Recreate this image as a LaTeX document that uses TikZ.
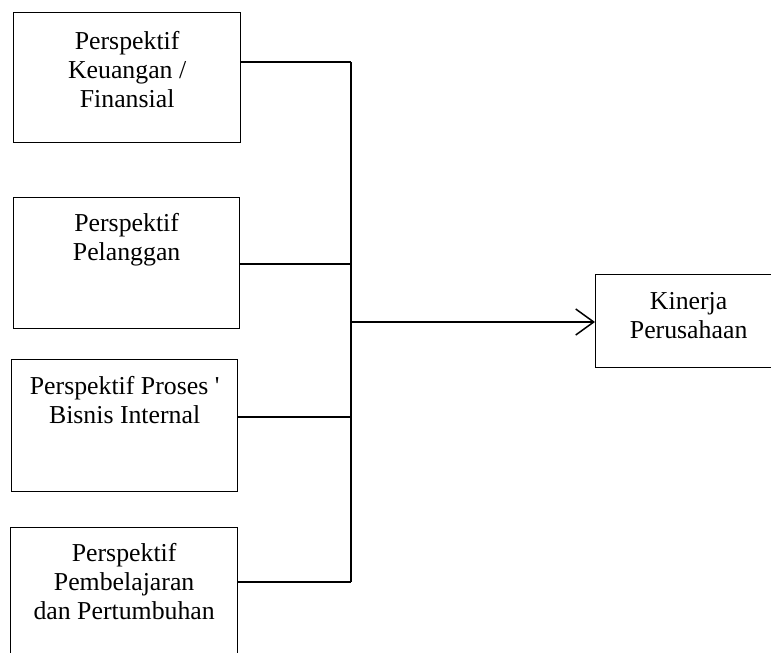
\documentclass[tikz,border=0pt]{standalone}
\usepackage{fontspec}
\setmainfont{Liberation Serif}
\usetikzlibrary{positioning,arrows.meta}

\tikzset{
  persbox/.style={draw, line width=1.3pt, anchor=north west, inner sep=0pt},
  boxtext/.style={anchor=north, align=center, inner sep=0pt,
    font=\fontsize{25.8}{29}\selectfont},
  wire/.style={line width=1.3pt},
}

\begin{document}
\begin{tikzpicture}[x=1pt,y=-1pt]
\useasboundingbox (0,0) rectangle (771,653);
\clip (0,0) rectangle (771,653);
% Drawing boxes
\node[persbox, minimum width=227pt, minimum height=130pt] (keu) at (13,12) {};
\node[persbox, minimum width=226pt, minimum height=131pt] (pel) at (13,197) {};
\node[persbox, minimum width=226pt, minimum height=132pt] (pro) at (11,359) {};
\node[persbox, minimum width=227pt, minimum height=140pt] (bel) at (10,527) {};
\node[persbox, minimum width=186pt, minimum height=93pt] (kin) at (595,274) {};
% Box texts
\node[boxtext, below=19pt of keu.north] (keu-t) {Perspektif\\Keuangan /\\Finansial};
\node[boxtext, below=16pt of pel.north] (pel-t) {Perspektif\\Pelanggan};
\node[boxtext, below=17pt of pro.north] (pro-t) {Perspektif Proses \textquotesingle\\Bisnis Internal};
\node[boxtext, below=16pt of bel.north] (bel-t) {Perspektif\\Pembelajaran\\dan Pertumbuhan};
\node[boxtext, below=18pt of kin.north] (kin-t) {Kinerja\\Perusahaan};
% Junctions on the bus
\coordinate (j1) at (351,62);
\coordinate (j2) at (351,264);
\coordinate (j3) at (351,417);
\coordinate (j4) at (351,582);
\coordinate (ja) at (351,322);
% Drawing connectors
\draw[wire] (keu.east |- j1) -- (j1);
\draw[wire] (pel.east |- j2) -- (j2);
\draw[wire] (pro.east |- j3) -- (j3);
\draw[wire] (bel.east |- j4) -- (j4);
\draw[wire] (j1) -- (j4);
\draw[wire, -{Straight Barb[length=18pt,width=26pt,line width=1.5pt]}] (ja) -- (kin.west |- ja);
\end{tikzpicture}
\end{document}
